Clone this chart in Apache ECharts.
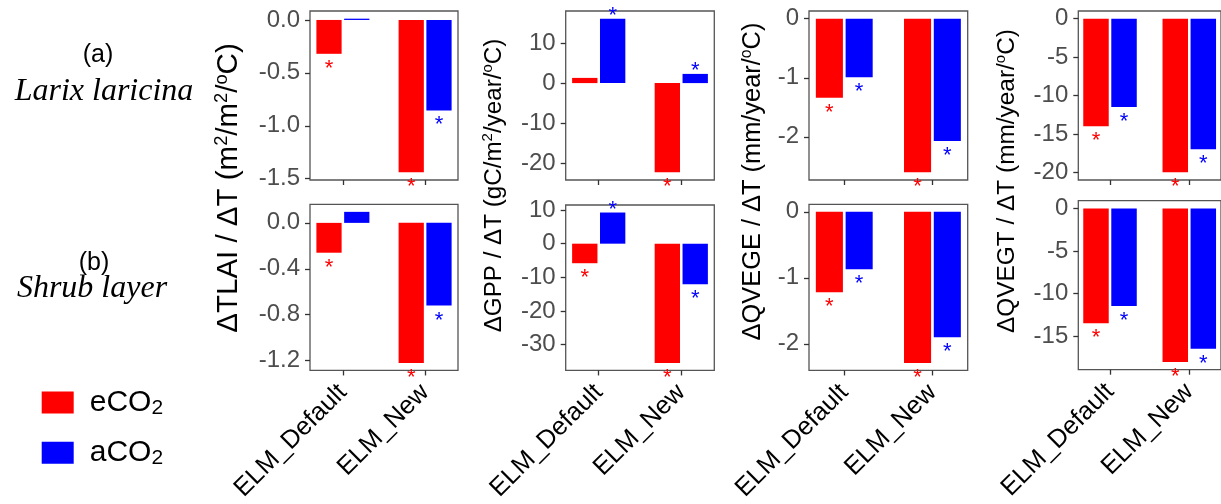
<!DOCTYPE html>
<html>
<head>
<meta charset="utf-8">
<script src="https://cdn.jsdelivr.net/npm/echarts@6/dist/echarts.min.js"></script>
<style>
  html, body { margin: 0; padding: 0; background: #ffffff; }
  #chart { width: 1221px; height: 504px; }
</style>
</head>
<body>
<div id="chart"></div>
<script>
// Model versions on the x axis
const models = ['ELM_Default', 'ELM_New'];
const seriesNames = ['eCO2', 'aCO2'];
const rowTags = ['(a)', '(b)'];
const rowNames = ['Larix laricina', 'Shrub layer'];
const axisTitles = [
  'ΔTLAI / ΔT (m{sup|2}/m{sup|2}/{sup|o}C)',
  'ΔGPP / ΔT (gC/m{sup|2}/year/{sup|o}C)',
  'ΔQVEGE / ΔT (mm/year/{sup|o}C)',
  'ΔQVEGT / ΔT (mm/year/{sup|o}C)'
];

// Temperature sensitivities, Larix laricina
const larixTLAI_e = [-0.32, -1.44];
const larixTLAI_a = [0.012, -0.855];
const larixGPP_e = [1.3, -22.3];
const larixGPP_a = [16.1, 2.3];
const larixQVEGE_e = [-1.34, -2.6];
const larixQVEGE_a = [-0.99, -2.07];
const larixQVEGT_e = [-14.0, -20.0];
const larixQVEGT_a = [-11.5, -17.0];

// Temperature sensitivities, shrub layer
const shrubTLAI_e = [-0.26, -1.22];
const shrubTLAI_a = [0.096, -0.72];
const shrubGPP_e = [-5.8, -35.4];
const shrubGPP_a = [9.25, -12.05];
const shrubQVEGE_e = [-1.22, -2.29];
const shrubQVEGE_a = [-0.87, -1.90];
const shrubQVEGT_e = [-13.5, -18.07];
const shrubQVEGT_a = [-11.47, -16.5];

// Significance flags (1 = significant, marked with *)
const larixTLAI_sigE = [1, 1], larixTLAI_sigA = [0, 1];
const larixGPP_sigE = [0, 1], larixGPP_sigA = [1, 1];
const larixQVEGE_sigE = [1, 1], larixQVEGE_sigA = [1, 1];
const larixQVEGT_sigE = [1, 1], larixQVEGT_sigA = [1, 1];
const shrubTLAI_sigE = [1, 1], shrubTLAI_sigA = [0, 1];
const shrubGPP_sigE = [1, 1], shrubGPP_sigA = [1, 1];
const shrubQVEGE_sigE = [1, 1], shrubQVEGE_sigA = [1, 1];
const shrubQVEGT_sigE = [1, 1], shrubQVEGT_sigA = [1, 1];

// Y tick values for each panel
const larixTLAI_ticks = [0, -0.5, -1.0, -1.5];
const larixGPP_ticks = [10, 0, -10, -20];
const larixQVEGE_ticks = [0, -1, -2];
const larixQVEGT_ticks = [0, -5, -10, -15, -20];
const shrubTLAI_ticks = [0, -0.4, -0.8, -1.2];
const shrubGPP_ticks = [10, 0, -10, -20, -30];
const shrubQVEGE_ticks = [0, -1, -2];
const shrubQVEGT_ticks = [0, -5, -10, -15];

const panels = [
  [ [larixTLAI_e, larixTLAI_a, larixTLAI_sigE, larixTLAI_sigA, larixTLAI_ticks, 1],
    [larixGPP_e, larixGPP_a, larixGPP_sigE, larixGPP_sigA, larixGPP_ticks, 0],
    [larixQVEGE_e, larixQVEGE_a, larixQVEGE_sigE, larixQVEGE_sigA, larixQVEGE_ticks, 0],
    [larixQVEGT_e, larixQVEGT_a, larixQVEGT_sigE, larixQVEGT_sigA, larixQVEGT_ticks, 0] ],
  [ [shrubTLAI_e, shrubTLAI_a, shrubTLAI_sigE, shrubTLAI_sigA, shrubTLAI_ticks, 1],
    [shrubGPP_e, shrubGPP_a, shrubGPP_sigE, shrubGPP_sigA, shrubGPP_ticks, 0],
    [shrubQVEGE_e, shrubQVEGE_a, shrubQVEGE_sigE, shrubQVEGE_sigA, shrubQVEGE_ticks, 0],
    [shrubQVEGT_e, shrubQVEGT_a, shrubQVEGT_sigE, shrubQVEGT_sigA, shrubQVEGT_ticks, 0] ]
];

// Layout of the panel frames (px)
const colLeft = [310, 565.7, 809, 1078.3];
const colWidth = [148, 148.6, 158.7, 149.4];
const rowTop = [[11, 11, 11, 11], [204.3, 205, 204.3, 200.7]];
const panelHeight = 169;
const colors = ['#FF0000', '#0000FF'];
const SANS = 'Liberation Sans';
const SERIF = 'Liberation Serif';
const X_MIN = -0.4, X_MAX = 1.4;

const grid = [], xAxis = [], yAxis = [], series = [];

function starLabel(v, show, color) {
  return {
    show: !!show,
    position: v < 0 ? 'bottom' : 'top',
    distance: v < 0 ? 4 : -8,
    formatter: '*',
    color: color,
    fontSize: 22,
    fontFamily: SANS
  };
}

panels.forEach((row, r) => {
  row.forEach((p, c) => {
    const [vE, vA, sE, sA, ticks, dec] = p;
    const idx = grid.length;
    const all = vE.concat(vA);
    const lo = Math.min(0, ...all), hi = Math.max(0, ...all);
    const pad = (hi - lo) * 0.05;
    grid.push({
      left: colLeft[c], top: rowTop[r][c], width: colWidth[c], height: panelHeight,
      show: true, borderColor: '#555555', borderWidth: 1.3, backgroundColor: '#ffffff'
    });
    xAxis.push({
      type: 'value', gridIndex: idx, min: X_MIN, max: X_MAX, position: 'bottom',
      axisLine: { show: false, onZero: false },
      splitLine: { show: false },
      axisTick: { show: true, length: 5, lineStyle: { color: '#333333', width: 1.3 }, customValues: [0, 1] },
      axisLabel: {
        show: r === 1, customValues: [0, 1], rotate: 45, margin: 18,
        formatter: v => models[Math.round(v)],
        color: '#000000', fontSize: 25.5, fontFamily: SANS
      }
    });
    yAxis.push({
      type: 'value', gridIndex: idx, min: lo - pad, max: hi + pad, position: 'left',
      axisLine: { show: false, onZero: false },
      splitLine: { show: false },
      axisTick: { show: true, length: 5, lineStyle: { color: '#333333', width: 1.3 }, customValues: ticks },
      axisLabel: {
        show: true, customValues: ticks, margin: 10,
        formatter: v => (Math.abs(v) < 1e-9 ? 0 : v).toFixed(dec),
        color: '#4D4D4D', fontSize: 24, fontFamily: SANS
      }
    });
    const barW = colWidth[c] / (X_MAX - X_MIN) * 0.307;
    [[vE, sE], [vA, sA]].forEach(([vals, sig], s) => {
      series.push({
        type: 'bar', name: seriesNames[s], xAxisIndex: idx, yAxisIndex: idx,
        barWidth: barW, barGap: '10%',
        itemStyle: { color: colors[s] },
        data: vals.map((v, i) => ({ value: [i, v], label: starLabel(v, sig[i], colors[s]) })),
        silent: true, animation: false
      });
    });
  });
});

// Column axis titles (font size per column) and row tags
const graphic = [];
const titleX = [229, 494, 753, 1007];
const titleY = [188, 185.5, 181.5, 181];
const titleSize = [29.5, 24.2, 25.4, 24.4];
axisTitles.forEach((t, c) => {
  const fs = titleSize[c];
  graphic.push({
    type: 'text', x: titleX[c], y: titleY[c], rotation: Math.PI / 2,
    style: {
      text: t, fill: '#000000', fontFamily: SANS, fontSize: fs,
      align: 'center', verticalAlign: 'middle', lineHeight: fs * 1.1,
      rich: { sup: { fontSize: fs * 0.62, fontFamily: SANS, verticalAlign: 'top', lineHeight: fs * 1.1, fill: '#000000' } }
    }
  });
});
const tagPos = [[98, 55], [94, 263]];
const namePos = [[104, 92], [92, 289]];
rowTags.forEach((t, r) => {
  graphic.push({
    type: 'text', x: tagPos[r][0], y: tagPos[r][1],
    style: { text: t, fill: '#000000', fontFamily: SANS, fontSize: 25, align: 'center', verticalAlign: 'middle' }
  });
  graphic.push({
    type: 'text', x: namePos[r][0], y: namePos[r][1],
    style: { text: rowNames[r], fill: '#000000', fontFamily: SERIF, fontStyle: 'italic', fontSize: 32, align: 'center', verticalAlign: 'middle' }
  });
});

function legendFor(name, top) {
  return {
    data: [name], left: 41.7, top: top, padding: 0, orient: 'vertical',
    icon: 'rect', itemWidth: 32, itemHeight: 22, selectedMode: false,
    formatter: n => n.slice(0, -1) + '{sub|2}',
    textStyle: {
      fontFamily: SANS, fontSize: 30, color: '#000000', lineHeight: 32,
      padding: [0, 0, 0, 11],
      rich: { sub: { fontFamily: SANS, fontSize: 21, verticalAlign: 'bottom', lineHeight: 32 } }
    }
  };
}

const chart = echarts.init(document.getElementById('chart'), null, { renderer: 'canvas' });
chart.setOption({
  backgroundColor: '#ffffff',
  animation: false,
  grid, xAxis, yAxis, series, graphic,
  legend: [legendFor('eCO2', 386.5), legendFor('aCO2', 436.8)]
});
</script>
</body>
</html>
